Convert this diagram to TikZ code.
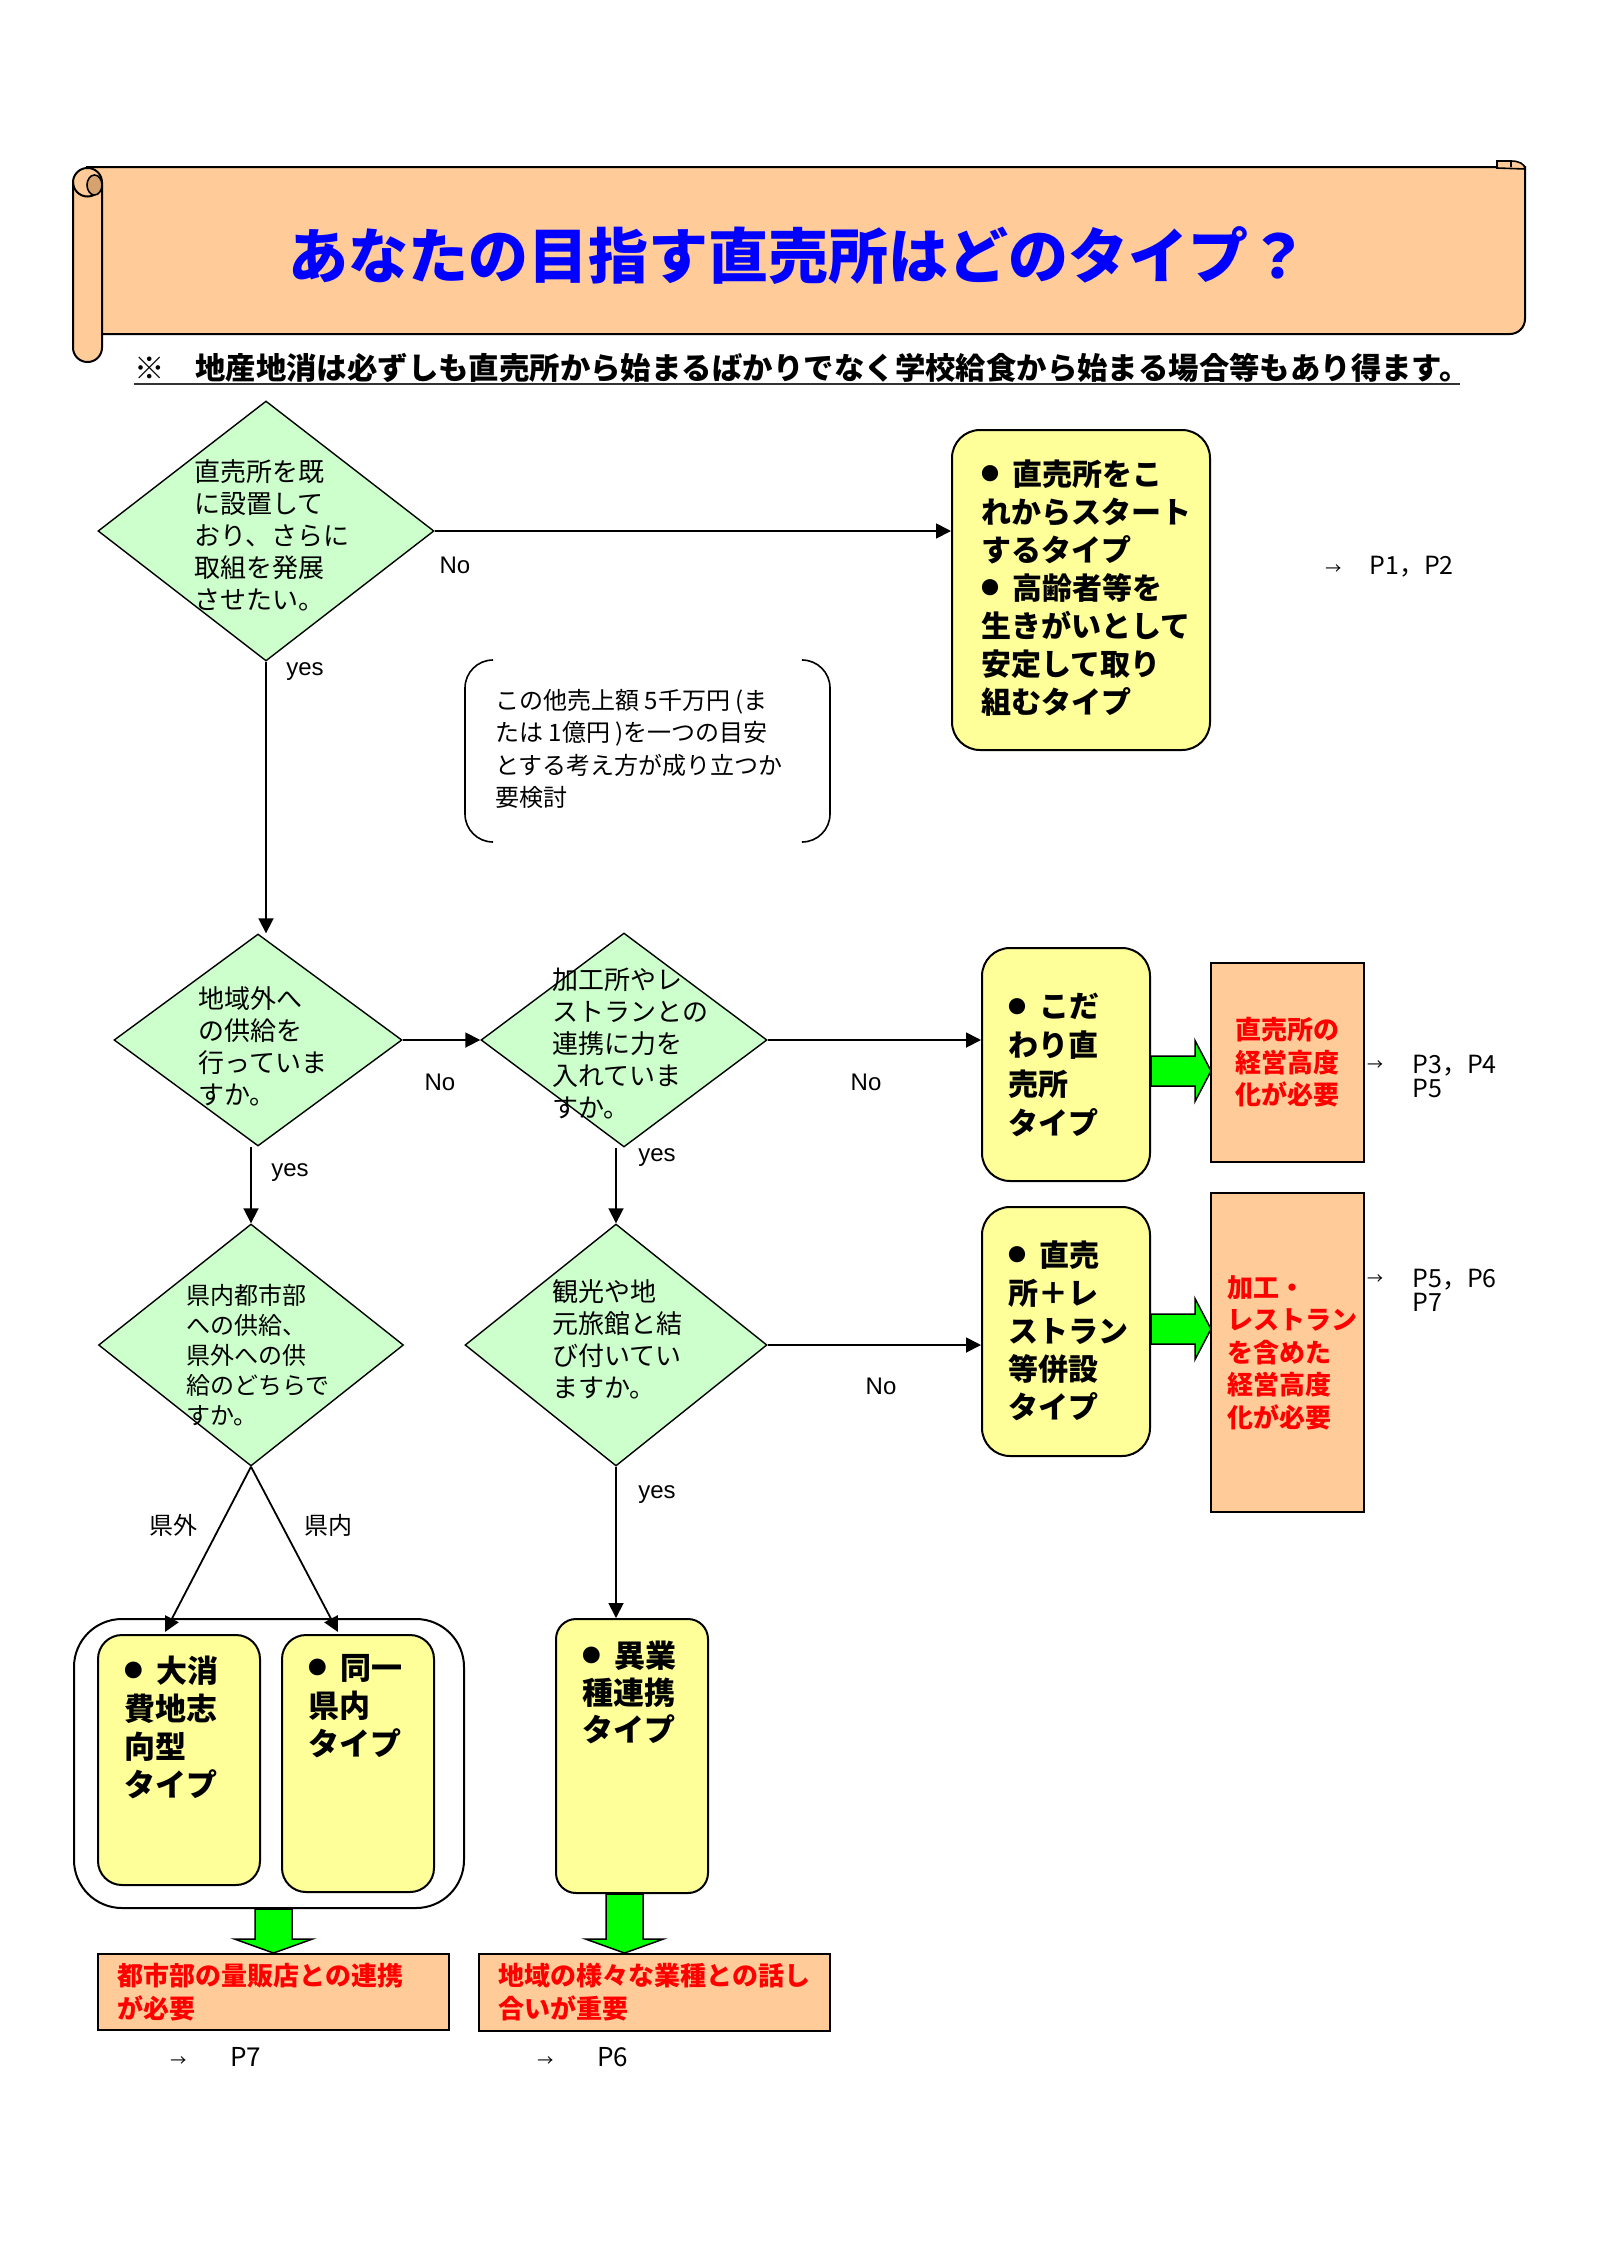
\documentclass[tikz,border=0pt]{standalone}
\usepackage{fontspec}
\setmainfont{Noto Sans CJK JP}
\newfontfamily\latinfont{Liberation Sans}
\usepackage{tikz}
\usetikzlibrary{positioning}
\usetikzlibrary{calc}
\usetikzlibrary{shapes.geometric}
\usetikzlibrary{arrows.meta}

\definecolor{choicegreen}{HTML}{CCFFCC}
\definecolor{typeyellow}{HTML}{FFFF99}
\definecolor{peach}{HTML}{FFCC99}
\definecolor{curltan}{HTML}{D6A36E}
\definecolor{leafgreen}{HTML}{00FF00}

\newcommand{\setfs}[2]{\fontsize{#1}{#2}\selectfont}
\newcommand{\bul}{\makebox[1.05em][l]{\raisebox{0.15em}{\scalebox{0.6}{●}}}}
\newcommand{\smallarr}{{\fontsize{8pt}{8pt}\selectfont →}}

\newcommand{\blockdown}[2]{%
    \draw[blockarrow] let \p1=(#1), \p2=(#2) in
        (\x2-9.25pt,\y1) -- (\x2+9.25pt,\y1) -- (\x2+9.25pt,\y2+7pt) -- (\x2+19.5pt,\y2+7pt)
        -- (\x2,\y2) -- (\x2-19.5pt,\y2+7pt) -- (\x2-9.25pt,\y2+7pt) -- cycle;}
\newcommand{\blockright}[2]{%
    \draw[blockarrow] let \p1=(#1), \p2=(#2) in
        (\x1,\y2+7.5pt) -- (\x2-8pt,\y2+7.5pt) -- (\x2-8pt,\y2+15.25pt) -- (\x2,\y2)
        -- (\x2-8pt,\y2-15.25pt) -- (\x2-8pt,\y2-7.5pt) -- (\x1,\y2-7.5pt) -- cycle;}

\tikzset{
    choice/.style={diamond, draw, fill=choicegreen, line width=0.7pt, inner sep=0pt},
    choicetext/.style={anchor=north west, inner sep=0pt, align=left, font=\setfs{13pt}{16pt}},
    typebox/.style={draw, fill=typeyellow, line width=1pt, rounded corners=14pt, inner sep=0pt},
    typetext/.style={inner sep=0pt, align=left, font=\bfseries\setfs{15pt}{19pt}},
    groupbox/.style={draw, fill=white, line width=1pt, rounded corners=24pt, inner sep=0pt},
    resultbox/.style={draw, fill=peach, line width=1pt, inner sep=0pt, text=red, font=\bfseries\setfs{13pt}{16.25pt}},
    flow/.style={line width=0.9pt, -{Triangle[length=7.5pt,width=7.5pt]}},
    lbl/.style={inner sep=0pt, font=\latinfont\setfs{12pt}{14pt}},
    pageref/.style={inner sep=0pt, align=left, font=\setfs{12.5pt}{12pt}},
    blockarrow/.style={draw, fill=leafgreen, line width=0.75pt, line join=miter},
}

\begin{document}
\begin{tikzpicture}[x=0.5pt, y=-0.5pt]
    \useasboundingbox (0,0) rectangle (1600,2264);
    \fill[white] (0,0) rectangle (1600,2264);

    % scroll banner
    \filldraw[fill=peach, line width=1pt] (87,167) -- (1525,167) -- (1525,319)
        arc[start angle=0, end angle=-90, radius=7.5pt] -- (87,334) -- cycle;
    \filldraw[fill=peach, line width=0.8pt] (1497,168) -- (1497,161) -- (1511,161)
        .. controls (1519,161) and (1525,164) .. (1525,169) -- cycle;
    \draw[line width=0.8pt] (1511,161) -- (1511,167);
    \filldraw[fill=peach, line width=1pt, rounded corners=7.2pt] (73,168) rectangle (102,362);
    \draw[line width=1pt] (73,182) arc[start angle=180, end angle=360, radius=7.25pt];
    \filldraw[fill=curltan, line width=0.8pt] (94.5,185) ellipse [x radius=3.75pt, y radius=5pt];

    \node[text=blue, font=\bfseries\setfs{30pt}{30pt}] (title) at (798,256) {あなたの目指す直売所はどのタイプ？};
    \node[anchor=west, inner sep=0pt, font=\bfseries\setfs{15.2pt}{15.2pt}] (note0) at (134,368)
        {※　地産地消は必ずしも直売所から始まるばかりでなく学校給食から始まる場合等もあり得ます。};
    \draw[line width=1.3pt, black!80] (134,384) -- (1460,384);

    % questions
    \node[choice, minimum width=168pt, minimum height=130pt] (D1) at (266,531) {};
    \node[choice, minimum width=144pt, minimum height=106pt] (D2) at (258,1040) {};
    \node[choice, minimum width=143pt, minimum height=107pt] (D3) at (624,1040) {};
    \node[choice, minimum width=151pt, minimum height=121pt] (D4) at (616,1345) {};
    \node[choice, minimum width=152.5pt, minimum height=121pt] (D5) at (251,1345) {};

    \node[choicetext] (D1t) at (194,459) {直売所を既\\に設置して\\おり、さらに\\取組を発展\\させたい。};
    \node[choicetext] (D2t) at (198,986) {地域外へ\\の供給を\\行っていま\\すか。};
    \node[choicetext] (D3t) at (552,968) {加工所やレ\\ストランとの\\連携に力を\\入れていま\\すか。};
    \node[choicetext] (D4t) at (552,1279) {観光や地\\元旅館と結\\び付いてい\\ますか。};
    \node[choicetext, font=\setfs{12pt}{15pt}] (D5t) at (186,1284) {県内都市部\\への供給、\\県外への供\\給のどちらで\\すか。};

    % remark in brackets
    \draw[line width=0.8pt, rounded corners=14pt] (493,660) -- (465,660) -- (465,842) -- (493,842);
    \draw[line width=0.8pt, rounded corners=14pt] (803,660) -- (830,660) -- (830,842) -- (803,842);
    \node[choicetext, font=\setfs{12pt}{16.2pt}] (remark) at (495,689)
        {この他売上額 5千万円 (ま\\たは 1億円 )を一つの目安\\とする考え方が成り立つか\\要検討};

    % types
    \node[typebox, minimum width=129pt, minimum height=160pt] (B1) at (1081,590) {};
    \node[typebox, minimum width=84pt, minimum height=116.5pt] (B2) at (1066,1064.5) {};
    \node[typebox, minimum width=84pt, minimum height=124.5pt] (B3) at (1066,1331.5) {};
    \node[groupbox, minimum width=195pt, minimum height=144.5pt] (grp) at (269,1763.5) {};
    \node[typebox, rounded corners=12pt, minimum width=81pt, minimum height=125pt] (B4) at (179,1760) {};
    \node[typebox, rounded corners=12pt, minimum width=76pt, minimum height=128.5pt] (B5) at (358,1763.5) {};
    \node[typebox, rounded corners=10pt, minimum width=76pt, minimum height=137pt] (B6) at (632,1756) {};

    \node[typetext, below right=15pt and 15pt of B1.north west] (B1t)
        {\bul 直売所をこ\\れからスタート\\するタイプ\\\bul 高齢者等を\\生きがいとして\\安定して取り\\組むタイプ};
    \node[typetext, font=\bfseries\setfs{15pt}{19.5pt}, below right=23pt and 13.5pt of B2.north west] (B2t)
        {\bul こだ\\わり直\\売所\\タイプ};
    \node[typetext, below right=17pt and 13.5pt of B3.north west] (B3t)
        {\bul 直売\\所＋レ\\ストラン\\等併設\\タイプ};
    \node[typetext, font=\bfseries\setfs{15.5pt}{19pt}, below right=10.75pt and 13.5pt of B4.north west] (B4t)
        {\bul 大消\\費地志\\向型\\タイプ};
    \node[typetext, font=\bfseries\setfs{15.5pt}{19pt}, below right=9.75pt and 13.5pt of B5.north west] (B5t)
        {\bul 同一\\県内\\タイプ};
    \node[typetext, font=\bfseries\setfs{15.5pt}{18.5pt}, below right=11.25pt and 13.5pt of B6.north west] (B6t)
        {\bul 異業\\種連携\\タイプ};

    % results
    \node[resultbox, align=center, minimum width=76.5pt, minimum height=99.5pt] (R1) at (1287.5,1062.5)
        {直売所の\\経営高度\\化が必要};
    \node[resultbox, align=left, text width=60pt, minimum width=76.5pt, minimum height=159.5pt] (R2) at (1287.5,1352.5)
        {加工・\\レストラン\\を含めた\\経営高度\\化が必要};
    \node[resultbox, align=left, text width=156pt, font=\bfseries\setfs{13pt}{16.5pt}, minimum width=175.5pt, minimum height=38pt] (R3) at (273.5,1992)
        {都市部の量販店との連携\\が必要};
    \node[resultbox, align=left, text width=156pt, font=\bfseries\setfs{13pt}{16.5pt}, minimum width=175.5pt, minimum height=38.5pt] (R4) at (654.5,1992.5)
        {地域の様々な業種との話し\\合いが重要};

    % connectors
    \coordinate (toB4) at (165,1632);
    \coordinate (toB5) at (338,1632);
    \draw[flow] (D1.east) -- (D1.east -| B1.west);
    \draw[flow] (D1.south) -- (D1.south |- D2.north);
    \draw[flow] (D2.east) -- (D3.west);
    \draw[flow] (D3.east) -- (D3.east -| B2.west);
    \draw[flow] (D5.north |- D2.south) -- (D5.north);
    \draw[flow] (D4.north |- D3.south) -- (D4.north);
    \draw[flow] (D4.east) -- (D4.east -| B3.west);
    \draw[flow] (D4.south) -- (D4.south |- B6.north);
    \draw[flow] (D5.south) -- (toB4);
    \draw[flow] (D5.south) -- (toB5);

    \node[lbl] (noA) at (455,565) {No};
    \node[lbl] (yesA) at (305,672) {yes};
    \node[lbl] (noB) at (440,1082) {No};
    \node[lbl] (noC) at (866,1082) {No};
    \node[lbl] (yesB) at (290,1173) {yes};
    \node[lbl] (yesC) at (657,1158) {yes};
    \node[lbl] (noD) at (881,1386) {No};
    \node[lbl] (yesD) at (657,1495) {yes};
    \node[lbl, font=\setfs{12pt}{12pt}] (outer) at (173,1525) {県外};
    \node[lbl, font=\setfs{12pt}{12pt}] (inner) at (328,1525) {県内};

    % green block arrows
    \coordinate (g1tip) at (1211,1071);
    \coordinate (g2tip) at (1211,1329);
    \coordinate (g4tip) at (624.5,1953);
    \blockright{B2.east}{g1tip}
    \blockright{B3.east}{g2tip}
    \blockdown{grp.south}{R3.north}
    \blockdown{B6.south}{g4tip}

    % page references
    \node[pageref, anchor=west] (pr1) at (1325,567) {\smallarr\hspace{14pt}P1，P2};
    \node[pageref] (ar2) at (1375,1066) {\smallarr};
    \node[pageref, anchor=north west] (pr2) at (1412,1055) {P3，P4\\P5};
    \node[pageref] (ar3) at (1375,1280) {\smallarr};
    \node[pageref, anchor=north west] (pr3) at (1412,1269) {P5，P6\\P7};
    \node[pageref, anchor=west, font=\setfs{13pt}{13pt}] (pr4) at (170,2057) {\smallarr\hspace{22pt}P7};
    \node[pageref, anchor=west, font=\setfs{13pt}{13pt}] (pr5) at (537,2057) {\smallarr\hspace{22pt}P6};
\end{tikzpicture}
\end{document}
